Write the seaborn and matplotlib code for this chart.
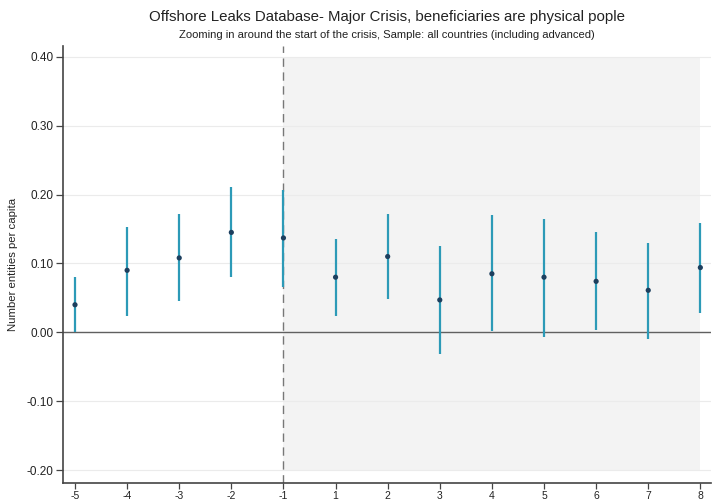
import numpy as np
import pandas as pd
import matplotlib
matplotlib.use("Agg")
import matplotlib.pyplot as plt
import seaborn as sns

# Data
periods = ["-5", "-4", "-3", "-2", "-1", "1", "2", "3", "4", "5", "6", "7", "8"]
estimate = [0.040, 0.090, 0.108, 0.145, 0.137, 0.080, 0.110, 0.047, 0.085, 0.080, 0.074, 0.061, 0.094]
ci_low = [0.000, 0.024, 0.045, 0.080, 0.066, 0.024, 0.049, -0.031, 0.002, -0.007, 0.003, -0.009, 0.028]
ci_high = [0.081, 0.153, 0.172, 0.211, 0.206, 0.135, 0.172, 0.126, 0.170, 0.165, 0.145, 0.130, 0.159]
y_ticks = [-0.20, -0.10, 0.00, 0.10, 0.20, 0.30, 0.40]

df = pd.DataFrame({"period": periods, "estimate": estimate, "lo": ci_low, "hi": ci_high})
df["pos"] = np.arange(len(df))

sns.set_theme(style="white")
plt.rcParams["font.family"] = ["Liberation Sans", "DejaVu Sans"]

fig = plt.figure(figsize=(7.12, 5.03), dpi=100)
ax = fig.add_axes([0.0885, 0.040, 0.9105, 0.8685])

# shaded post-crisis region
start = df.loc[df.period == "-1", "pos"].iloc[0]
end = df["pos"].iloc[-1]
ax.fill_between([start, end], y_ticks[0], y_ticks[-1], color="#f3f3f3", zorder=0, linewidth=0)

# gridlines
for t in y_ticks:
    ax.axhline(t, color="#ebebeb", lw=0.8, zorder=0.5)
ax.axhline(0, color="#606060", lw=1.0, zorder=1)
ax.axvline(start, color="#777777", lw=1.0, ls=(0, (6, 4)), zorder=1)

# CIs and estimates
ax.vlines(df["pos"], df["lo"], df["hi"], color="#2c9ab7", lw=1.6, zorder=2)
sns.scatterplot(data=df, x="pos", y="estimate", ax=ax, color="#1d3f5e", s=14,
                edgecolor="none", zorder=3, legend=False)

ax.set_xlim(-0.23, 12.21)
ax.set_ylim(-0.2185, 0.4155)
ax.set_xticks(df["pos"])
ax.set_xticklabels(periods)
ax.set_yticks(y_ticks)
ax.set_yticklabels([f"{t:.2f}" for t in y_ticks])
ax.set_xlabel("")
ax.set_ylabel("Number entities per capita", fontsize=8.2, color="#222222", labelpad=6)

for s in ["top", "right"]:
    ax.spines[s].set_visible(False)
for s in ["left", "bottom"]:
    ax.spines[s].set_color("#444444")
    ax.spines[s].set_linewidth(1.2)
ax.tick_params(axis="y", which="major", direction="out", length=5, width=0.9,
               color="#444444", labelsize=8.5, labelcolor="#222222", pad=2, left=True)
ax.tick_params(axis="x", which="major", direction="out", length=4.5, width=0.9,
               color="#444444", labelsize=7.5, labelcolor="#222222", pad=1, bottom=True)

cx = 0.0885 + 0.9105 / 2
fig.text(cx, 0.966, "Offshore Leaks Database- Major Crisis, beneficiaries are physical pople",
         ha="center", va="center", fontsize=10.8, color="#222222")
fig.text(cx, 0.931, "Zooming in around the start of the crisis, Sample: all countries (including advanced)",
         ha="center", va="center", fontsize=8.1, color="#222222")

fig.savefig("out.png", dpi=100)
